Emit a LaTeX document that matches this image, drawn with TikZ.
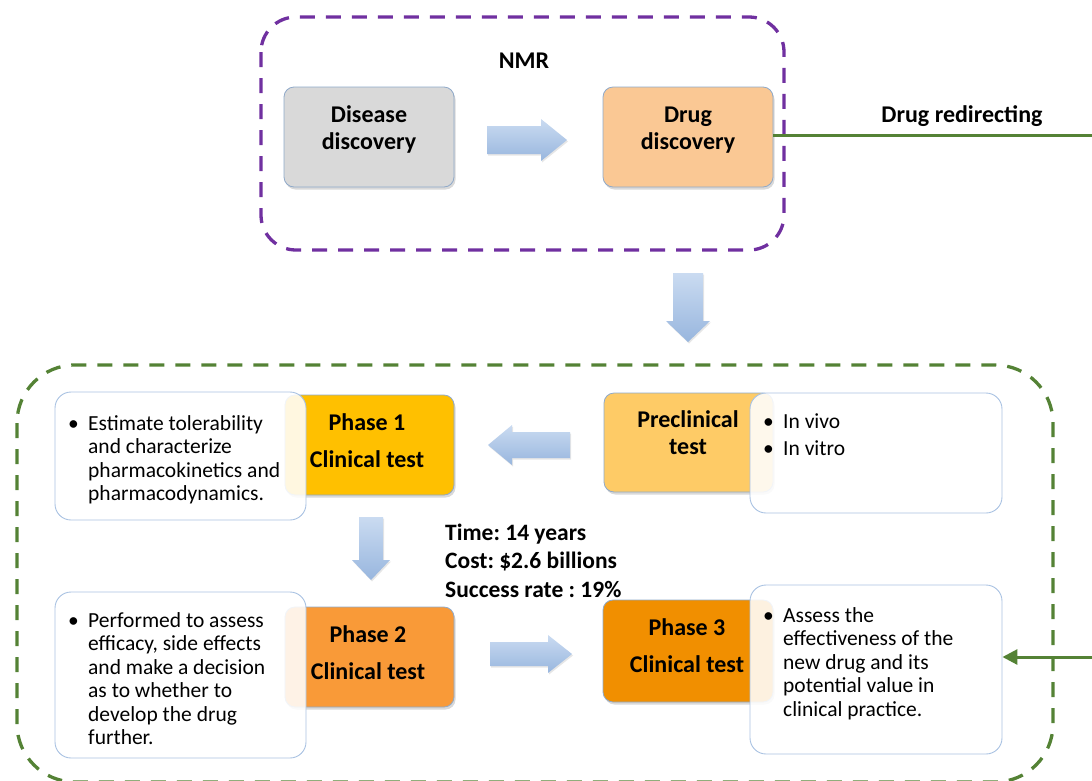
\documentclass[tikz,border=0pt]{standalone}
\usepackage{fontspec}
\setmainfont{Carlito}
\usetikzlibrary{shadows,arrows.meta}
\definecolor{disfill}{HTML}{D9D9D9}
\definecolor{drugfill}{HTML}{FAC894}
\definecolor{preclfill}{HTML}{FECB66}
\definecolor{phaseone}{HTML}{FFC000}
\definecolor{phasetwo}{HTML}{F99A38}
\definecolor{phasethree}{HTML}{F18F00}
\definecolor{boxline}{HTML}{8FA9C9}
\definecolor{noteline}{HTML}{A9C2E2}
\definecolor{nmrpurple}{HTML}{7030A0}
\definecolor{redgreen}{HTML}{548235}
\definecolor{arrtop}{HTML}{CADBF1}
\definecolor{arrbot}{HTML}{98B6DE}
\newcommand{\bmark}{\makebox[20pt][l]{\textbullet}}
\newcommand{\bulletblock}[1]{\bmark\parbox[t]{230pt}{\raggedright #1}}
\begin{document}
\frenchspacing
\begin{tikzpicture}[x=1pt,y=-1pt,
  colbox/.style={rounded corners=10pt, draw=boxline, line width=0.8pt,
    drop shadow={shadow xshift=1.5pt,shadow yshift=-2.5pt,opacity=0.3}},
  notebox/.style={rounded corners=16pt, draw=noteline, line width=0.9pt,
    fill=white, fill opacity=0.88},
  boxlabel/.style={font=\fontsize{24}{27}\selectfont\bfseries, align=center, inner sep=0pt},
  bullettext/.style={font=\fontsize{21.5}{23.5}\selectfont, inner sep=0pt, anchor=base west},
  blockarrow/.style={top color=arrtop, bottom color=arrbot, draw=none,
    drop shadow={shadow xshift=1pt,shadow yshift=-1.5pt,opacity=0.2}},
  frame/.style={line width=3.3pt, dash pattern=on 15pt off 11pt},
  redirect/.style={draw=redgreen, line width=3pt}
]
\useasboundingbox (0,0) rectangle (1092,780);

% frames
\draw[frame, nmrpurple, rounded corners=35pt] (261,17) rectangle (784,250);
\draw[frame, redgreen, rounded corners=58pt] (17,365) rectangle (1053,782);

% coloured boxes
\node[colbox, fill=disfill, minimum width=170pt, minimum height=100pt] (dis) at (369,137) {};
\node[colbox, fill=drugfill, minimum width=170pt, minimum height=100pt] (drug) at (688,137) {};
\node[colbox, fill=preclfill, minimum width=169pt, minimum height=99pt] (precl) at (688.5,442.5) {};
\node[colbox, fill=phaseone, minimum width=169pt, minimum height=100pt] (ph1) at (369.5,445) {};
\node[colbox, fill=phasetwo, minimum width=169pt, minimum height=100pt] (ph2) at (369.5,657) {};
\node[colbox, fill=phasethree, minimum width=170pt, minimum height=102pt] (ph3) at (688,651) {};

% note boxes
\node[notebox, minimum width=252pt, minimum height=120pt] (vivo) at (876,453) {};
\node[notebox, minimum width=251pt, minimum height=128pt] (est) at (180.5,456) {};
\node[notebox, minimum width=251pt, minimum height=166pt] (perf) at (180.5,675) {};
\node[notebox, minimum width=252pt, minimum height=169pt] (assess) at (876,669.5) {};

% block arrows
\shade[blockarrow] (487,126) -- (541,126) -- (541,119) -- (567,140) -- (541,161) -- (541,154) -- (487,154) -- cycle;
\shade[blockarrow] (673,273) -- (703,273) -- (703,321) -- (710,321) -- (688,342) -- (666,321) -- (673,321) -- cycle;
\shade[blockarrow] (570,432) -- (512,432) -- (512,425) -- (488,445) -- (512,465) -- (512,458) -- (570,458) -- cycle;
\shade[blockarrow] (359,517) -- (383,517) -- (383,560) -- (390,560) -- (371,580) -- (352,560) -- (359,560) -- cycle;
\shade[blockarrow] (490,642) -- (548,642) -- (548,635) -- (572,654) -- (548,673) -- (548,666) -- (490,666) -- cycle;

% drug redirecting connector
\coordinate (r1) at (1100,135);
\coordinate (r2) at (1100,657);
\draw[redirect, -{Triangle[length=15pt,width=15pt]}] (drug.east |- r1) -- (r1) -- (r2) -- (assess.east |- r2);
\node[boxlabel, anchor=base] (redirtxt) at (962,122) {Drug redirecting};

% labels (base = last line)
\node[boxlabel, anchor=base] (nmr) at (524,68) {NMR};
\node[boxlabel, anchor=base] (distxt) at (369,149) {Disease\\discovery};
\node[boxlabel, anchor=base] (drugtxt) at (688,149) {Drug\\discovery};
\node[boxlabel, anchor=base] (precltxt) at (688,454) {Preclinical\\test};
\node[boxlabel, anchor=base] (ph1txt) at (367,467) {Phase 1\\[10pt]Clinical test};
\node[boxlabel, anchor=base] (ph2txt) at (368,679) {Phase 2\\[10pt]Clinical test};
\node[boxlabel, anchor=base] (ph3txt) at (687,672) {Phase 3\\[10pt]Clinical test};

\node[font=\fontsize{23.5}{28.5}\selectfont\bfseries, align=left, inner sep=0pt, anchor=base west] (stats) at (445,597)
  {Time: 14 years\\Cost: \$2.6 billions\\Success rate : 19\%};

% bullet texts (base = first line)
\node[bullettext] (esttxt) at (68,430)
  {\bulletblock{Estimate tolerability\\and characterize\\pharmacokinetics and\\pharmacodynamics.}};
\node[bullettext] (perftxt) at (68,627)
  {\bulletblock{Performed to assess\\efficacy, side effects\\and make a decision\\as to whether to\\develop the drug\\further.}};
\node[bullettext] (vivotxt) at (763,428)
  {\parbox[t]{240pt}{\raggedright\bmark In vivo\\[3.5pt]\bmark In vitro}};
\node[bullettext] (assesstxt) at (763,622)
  {\bulletblock{Assess the\\effectiveness of the\\new drug and its\\potential value in\\clinical practice.}};
\end{tikzpicture}
\end{document}
